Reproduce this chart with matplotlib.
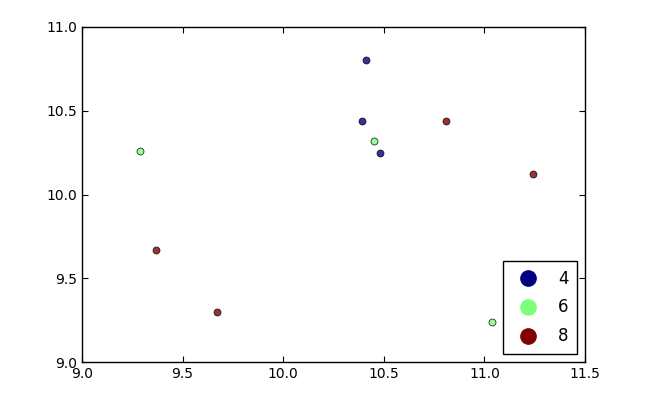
import matplotlib
matplotlib.use('Agg')
import matplotlib.pyplot as plt
from matplotlib.lines import Line2D

# точки по группам (4, 6, 8)
x4 = [10.41, 10.39, 10.48]
y4 = [10.80, 10.44, 10.25]
x6 = [9.29, 10.45, 11.04]
y6 = [10.26, 10.32, 9.24]
x8 = [10.81, 11.24, 9.37, 9.67]
y8 = [10.44, 10.12, 9.67, 9.30]

groups = ['4', '6', '8']
colors = ['#000080', '#7dff7a', '#800000']

fig = plt.figure(figsize=(6.5, 4), dpi=100)
ax = fig.add_axes([0.126, 0.095, 0.774, 0.8375])

for xs, ys, c in zip([x4, x6, x8], [y4, y6, y8], colors):
    ax.scatter(xs, ys, s=25, c=c, edgecolors='black', linewidths=0.6, alpha=0.8, zorder=3)

ax.set_xlim(9.0, 11.5)
ax.set_ylim(9.0, 11.0)
ax.set_xticks([9.0, 9.5, 10.0, 10.5, 11.0, 11.5])
ax.set_yticks([9.0, 9.5, 10.0, 10.5, 11.0])
ax.tick_params(direction='in', top=True, right=True, length=4, labelsize=10)
for sp in ax.spines.values():
    sp.set_linewidth(1.0)

handles = [Line2D([], [], marker='o', linestyle='', markersize=11,
                  markerfacecolor=c, markeredgecolor=c) for c in colors]
leg = ax.legend(handles, groups, loc='lower right', numpoints=1, fontsize=12,
                fancybox=False, framealpha=1, handlelength=2.0, borderpad=0.5,
                labelspacing=0.65, handletextpad=0.8)
leg.get_frame().set_edgecolor('black')

fig.savefig('out.png', dpi=100)
